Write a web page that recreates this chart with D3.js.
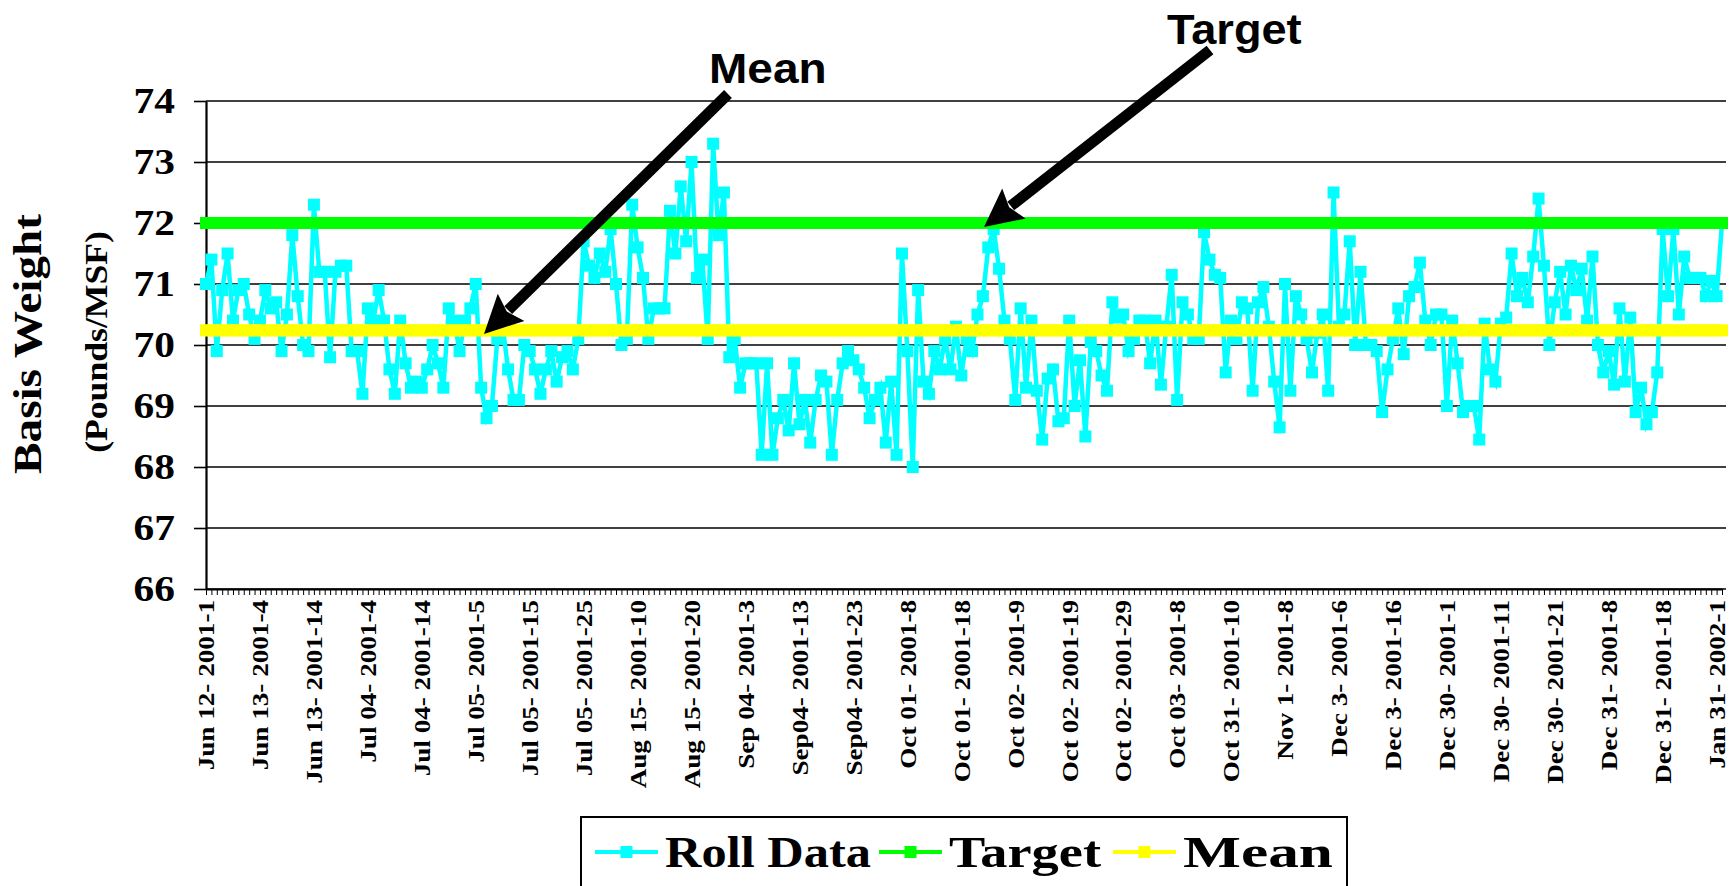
<!DOCTYPE html>
<html>
<head>
<meta charset="utf-8">
<script src="https://cdn.jsdelivr.net/npm/d3@7"></script>
<style>
  html, body { margin: 0; padding: 0; background: #fff; }
  svg { display: block; }
</style>
</head>
<body>
<div id="chart"></div>
<script>
// roll-by-roll basis weight (one value per roll)
const rollData = [
  71.0, 71.4, 69.9, 70.9, 71.5, 70.4, 70.9, 71.0, 70.5, 70.1,
  70.4, 70.9, 70.6, 70.7, 69.9, 70.5, 71.8, 70.8, 70.0, 69.9,
  72.3, 71.2, 71.2, 69.8, 71.2, 71.3, 71.3, 69.9, 69.9, 69.2,
  70.6, 70.4, 70.9, 70.4, 69.6, 69.2, 70.4, 69.7, 69.3, 69.4,
  69.3, 69.6, 70.0, 69.7, 69.3, 70.6, 70.4, 69.9, 70.4, 70.6,
  71.0, 69.3, 68.8, 69.0, 70.1, 70.3, 69.6, 69.1, 69.1, 70.0,
  69.9, 69.6, 69.2, 69.6, 69.9, 69.4, 69.8, 69.9, 69.6, 70.1,
  71.7, 71.3, 71.1, 71.5, 71.2, 71.9, 71.0, 70.0, 70.1, 72.3,
  71.6, 71.1, 70.1, 70.6, 70.6, 70.6, 72.2, 71.5, 72.6, 71.7,
  73.0, 71.1, 71.4, 70.1, 73.3, 71.8, 72.5, 69.8, 70.1, 69.3,
  69.7, 69.7, 69.7, 68.2, 69.7, 68.2, 68.8, 69.1, 68.6, 69.7,
  68.7, 69.1, 68.4, 69.1, 69.5, 69.4, 68.2, 69.1, 69.7, 69.9,
  69.75, 69.6, 69.3, 68.8, 69.1, 69.3, 68.4, 69.4, 68.2, 71.5,
  69.9, 68.0, 70.9, 69.4, 69.2, 69.9, 69.6, 70.1, 69.6, 70.3,
  69.5, 70.1, 69.9, 70.5, 70.8, 71.6, 71.9, 71.25, 70.4, 70.1,
  69.1, 70.6, 69.3, 70.4, 69.25, 68.45, 69.45, 69.6, 68.75, 68.8,
  70.4, 69.0, 69.75, 68.5, 70.05, 69.9, 69.5, 69.25, 70.7, 70.45,
  70.5, 69.9, 70.1, 70.4, 70.4, 69.7, 70.4, 69.35, 70.3, 71.15,
  69.1, 70.7, 70.5, 70.1, 70.1, 71.85, 71.4, 71.15, 71.1, 69.55,
  70.4, 70.1, 70.7, 70.6, 69.25, 70.7, 70.95, 70.3, 69.4, 68.65,
  71.0, 69.25, 70.8, 70.5, 70.1, 69.55, 70.2, 70.5, 69.25, 72.5,
  70.3, 70.5, 71.7, 70.0, 71.2, 70.0, 70.0, 69.9, 68.9, 69.6,
  70.1, 70.6, 69.85, 70.8, 70.95, 71.35, 70.4, 70.0, 70.5, 70.5,
  69.0, 70.4, 69.7, 68.9, 69.0, 69.0, 68.45, 70.35, 69.6, 69.4,
  70.35, 70.45, 71.5, 70.8, 71.1, 70.7, 71.45, 72.4, 71.3, 70.0,
  70.7, 71.2, 70.5, 71.3, 70.9, 71.25, 70.4, 71.45, 70.0, 69.55,
  69.9, 69.35, 70.6, 69.4, 70.45, 68.9, 69.3, 68.7, 68.9, 69.55,
  71.9, 70.8, 71.9, 70.5, 71.45, 71.1, 71.1, 71.1, 70.8, 71.05,
  70.8, 72.0
];

// every 10th roll gets a label on the category axis
const tickLabels = [
  "Jun 12- 2001-1", "Jun 13- 2001-4", "Jun 13- 2001-14", "Jul 04- 2001-4",
  "Jul 04- 2001-14", "Jul 05- 2001-5", "Jul 05- 2001-15", "Jul 05- 2001-25",
  "Aug 15- 2001-10", "Aug 15- 2001-20", "Sep 04- 2001-3", "Sep04- 2001-13",
  "Sep04- 2001-23", "Oct 01- 2001-8", "Oct 01- 2001-18", "Oct 02- 2001-9",
  "Oct 02- 2001-19", "Oct 02- 2001-29", "Oct 03- 2001-8", "Oct 31- 2001-10",
  "Nov 1- 2001-8", "Dec 3- 2001-6", "Dec 3- 2001-16", "Dec 30- 2001-1",
  "Dec 30- 2001-11", "Dec 30- 2001-21", "Dec 31- 2001-8", "Dec 31- 2001-18",
  "Jan 31- 2002-1"
];
const labelEvery = 10;

const targetValue = 72;
const meanValue = 70.24;
const yTicks = [66, 67, 68, 69, 70, 71, 72, 73, 74];

const seriesNames = ["Roll Data", "Target", "Mean"];
const seriesColors = ["#00ffff", "#00ff00", "#ffff00"];

const serif = "'Liberation Serif', 'Times New Roman', serif";
const sans = "'Liberation Sans', Arial, sans-serif";

let dim = {width: 1729, height: 886, left: 206, right: 1722, top: 101, bottom: 589};

let svg = d3.select('#chart').append('svg')
    .attr('width', dim.width)
    .attr('height', dim.height);

const categories = d3.range(rollData.length);
const targetSeries = categories.map(() => targetValue);
const meanSeries = categories.map(() => meanValue);

let scaleX = d3.scalePoint()
    .domain(categories)
    .range([dim.left, dim.right]);

let scaleY = d3.scaleLinear()
    .domain([66, 74])
    .range([dim.bottom, dim.top]);

// horizontal gridlines
svg.append('g')
  .selectAll('line')
  .data(yTicks)
  .enter().append('line')
    .attr('x1', dim.left).attr('x2', dim.right + 4)
    .attr('y1', d => scaleY(d)).attr('y2', d => scaleY(d))
    .attr('stroke', '#000').attr('stroke-width', 1.6);

// y axis
let axisY = d3.axisLeft(scaleY).tickValues(yTicks).tickSize(12).tickSizeOuter(0);
let gy = svg.append('g')
    .attr('transform', `translate(${dim.left},0)`)
    .call(axisY);
gy.select('.domain').attr('stroke-width', 2.2);
gy.selectAll('.tick line').attr('stroke-width', 1.6);
gy.selectAll('.tick text')
    .attr('x', 0)
    .attr('dy', '0.33em')
    .attr('transform', 'translate(-31,0) scale(1.15,1)')
    .attr('font-family', serif)
    .attr('font-weight', 'bold')
    .attr('font-size', 36)
    .attr('fill', '#000');

// x axis: a tick for every roll, a label every 10th
let axisX = d3.axisBottom(scaleX)
    .tickSize(6)
    .tickSizeOuter(0)
    .tickFormat(i => i % labelEvery === 0 ? (tickLabels[i / labelEvery] || '') : '');
let gx = svg.append('g')
    .attr('transform', `translate(0,${dim.bottom})`)
    .call(axisX);
gx.select('.domain').attr('stroke-width', 2.2);
gx.selectAll('.tick line').attr('stroke-width', 1);
gx.selectAll('.tick text')
    .attr('y', null)
    .attr('x', 0)
    .attr('dy', '0.34em')
    .attr('text-anchor', 'end')
    .attr('transform', 'translate(0,11) rotate(-90) scale(1.18,1)')
    .attr('font-family', serif)
    .attr('font-weight', 'bold')
    .attr('font-size', 23)
    .attr('fill', '#000');

// series
function drawSeries(values, color, lineWidth, markerSize) {
  let g = svg.append('g');
  let line = d3.line()
      .x((d, i) => scaleX(i))
      .y(d => scaleY(d));
  g.append('path')
      .datum(values)
      .attr('d', line)
      .attr('fill', 'none')
      .attr('stroke', color)
      .attr('stroke-width', lineWidth)
      .attr('stroke-linejoin', 'miter');
  g.selectAll('rect')
      .data(values)
      .enter().append('rect')
      .attr('x', (d, i) => scaleX(i) - markerSize / 2)
      .attr('y', d => scaleY(d) - markerSize / 2)
      .attr('width', markerSize)
      .attr('height', markerSize)
      .attr('fill', color);
}

drawSeries(rollData, seriesColors[0], 4.5, 12);
drawSeries(targetSeries, seriesColors[1], 4, 12);
drawSeries(meanSeries, seriesColors[2], 4, 12);

// arrows pointing at the target and mean lines
function arrow(x1, y1, x2, y2) {
  let dx = x2 - x1, dy = y2 - y1, len = Math.hypot(dx, dy);
  let ux = dx / len, uy = dy / len;
  let headLen = 38, headHalf = 19;
  let bx = x2 - ux * headLen, by = y2 - uy * headLen;
  svg.append('line')
      .attr('x1', x1).attr('y1', y1)
      .attr('x2', bx + ux * 4).attr('y2', by + uy * 4)
      .attr('stroke', '#000').attr('stroke-width', 11);
  svg.append('path')
      .attr('d', `M${x2},${y2} L${bx - uy * headHalf},${by + ux * headHalf} L${bx + ux * 6},${by + uy * 6} L${bx + uy * headHalf},${by - ux * headHalf} Z`)
      .attr('fill', '#000');
}
arrow(728, 94, 484, 334);
arrow(1210, 50, 984, 227);

svg.append('text')
    .attr('transform', 'translate(709,83) scale(1.07,1)')
    .attr('font-family', sans).attr('font-weight', 'bold').attr('font-size', 43)
    .text('Mean');
svg.append('text')
    .attr('transform', 'translate(1167,44) scale(1.05,1)')
    .attr('font-family', sans).attr('font-weight', 'bold').attr('font-size', 43)
    .text('Target');

// axis titles
svg.append('text')
    .attr('transform', 'translate(41,344) rotate(-90) scale(1.15,1)')
    .attr('text-anchor', 'middle')
    .attr('font-family', serif).attr('font-weight', 'bold').attr('font-size', 41)
    .text('Basis Weight');
svg.append('text')
    .attr('transform', 'translate(107,342) rotate(-90) scale(1.15,1)')
    .attr('text-anchor', 'middle')
    .attr('font-family', serif).attr('font-weight', 'bold').attr('font-size', 31)
    .text('(Pounds/MSF)');

// legend
let legend = svg.append('g');
legend.append('rect')
    .attr('x', 581).attr('y', 817)
    .attr('width', 766).attr('height', 100)
    .attr('fill', '#fff')
    .attr('stroke', '#000').attr('stroke-width', 2);

const legendX = [595, 879, 1113];
const legendTextWidth = [206, 152, 150];
const ly = 852;
seriesNames.forEach((name, k) => {
  let lx = legendX[k];
  legend.append('line')
      .attr('x1', lx).attr('x2', lx + 63)
      .attr('y1', ly).attr('y2', ly)
      .attr('stroke', seriesColors[k]).attr('stroke-width', 4);
  legend.append('rect')
      .attr('x', lx + 31.5 - 6).attr('y', ly - 6)
      .attr('width', 12).attr('height', 12)
      .attr('fill', seriesColors[k]);
  legend.append('text')
      .attr('x', lx + 70).attr('y', 867)
      .attr('textLength', legendTextWidth[k])
      .attr('lengthAdjust', 'spacingAndGlyphs')
      .attr('font-family', serif).attr('font-weight', 'bold').attr('font-size', 44)
      .text(name);
});
</script>
</body>
</html>
